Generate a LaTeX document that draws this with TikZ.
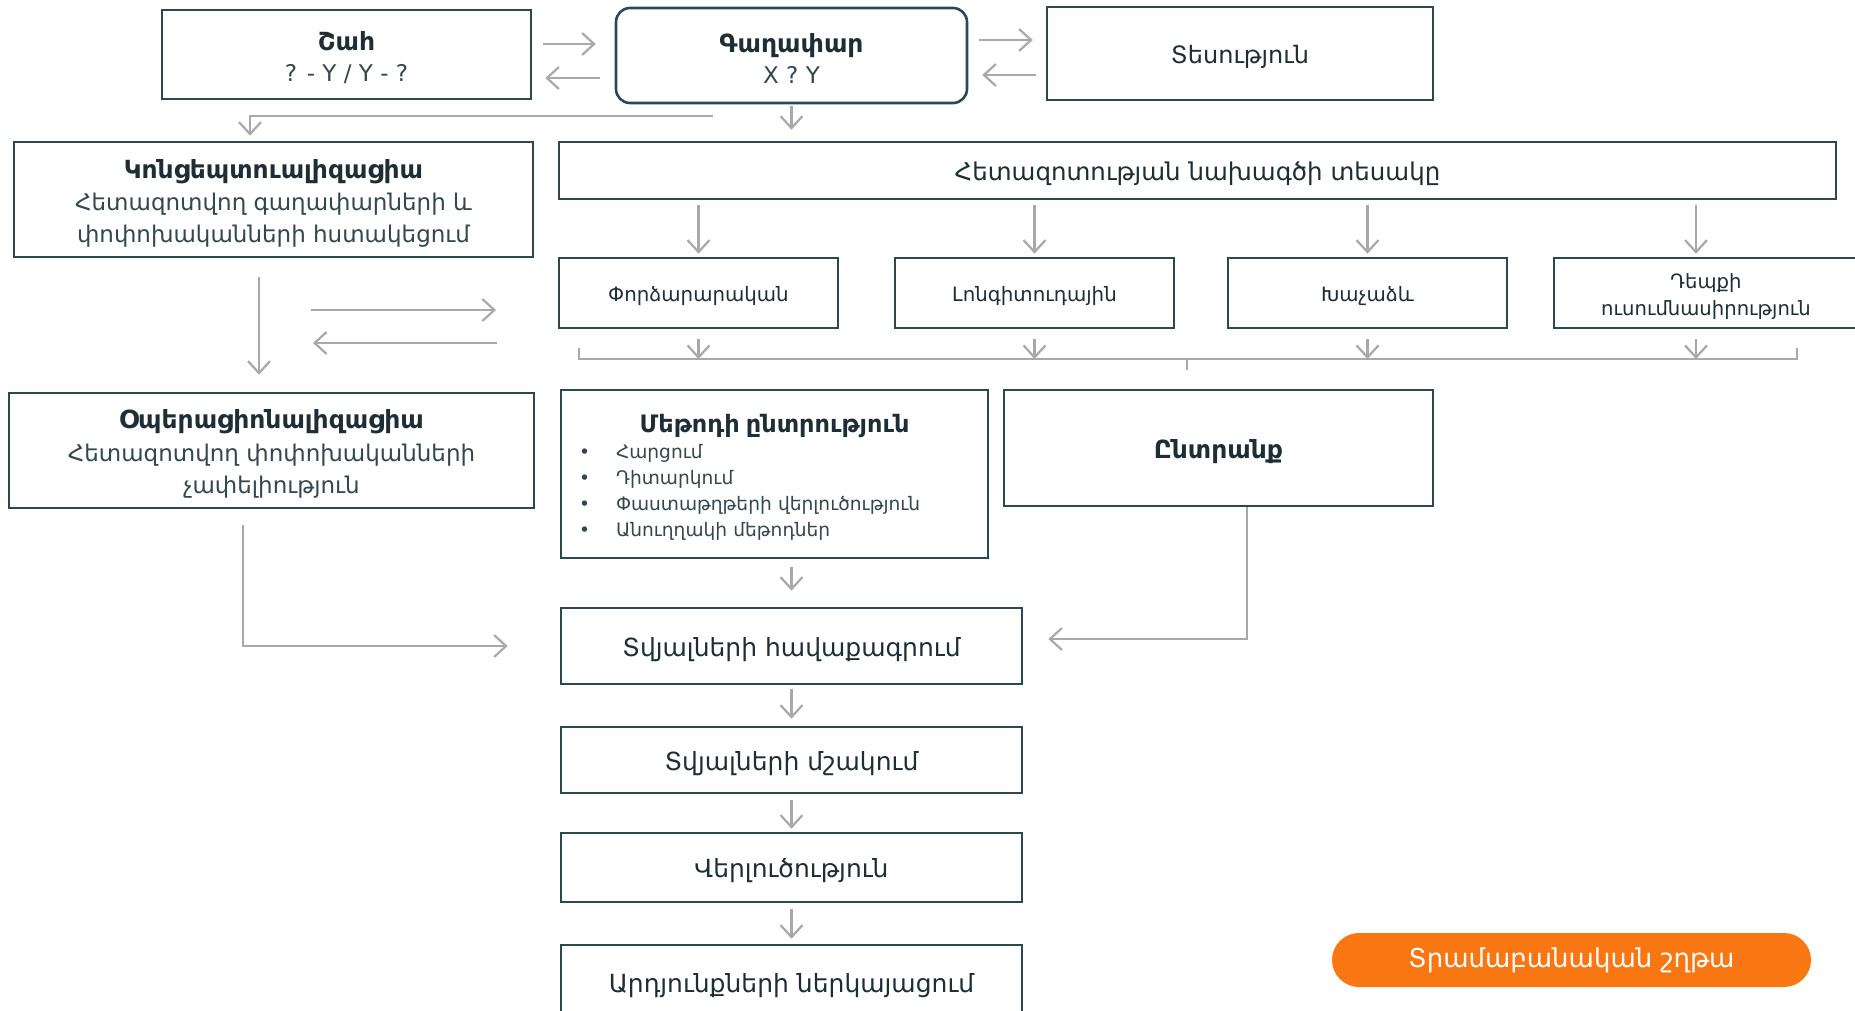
\documentclass[tikz,border=0pt]{standalone}
\usepackage{fontspec}
\setmainfont{DejaVu Sans}
\usetikzlibrary{arrows.meta,calc}
\definecolor{bord}{HTML}{2D4850}
\definecolor{txt}{HTML}{1F2E35}
\definecolor{lgt}{HTML}{34474E}
\definecolor{conn}{HTML}{A9A9A9}
\definecolor{orng}{HTML}{F97712}
\pgfdeclarelayer{bg}
\pgfsetlayers{bg,main}
\newcommand{\fsz}[2]{\fontsize{#1pt}{#2pt}\selectfont}
\newcommand{\lowr}[1]{\raisebox{-3.5pt}[\height][\depth]{#1}}
\begin{document}
\begin{tikzpicture}[x=1pt,y=-1pt,
  box/.style={draw=bord, line width=2.6pt, fill=white, text=txt, align=center, inner sep=0pt},
  arr/.style={draw=conn, line width=2.2pt, -{Straight Barb[length=12pt,width=22pt]}},
  lin/.style={draw=conn, line width=2.2pt}]
\useasboundingbox (0,0) rectangle (1855,1011);
\clip (0,0) rectangle (1855,1011);
\fill[white] (0,0) rectangle (1855,1011);

% top row
\node[box, minimum width=369pt, minimum height=89pt, font=\fsz{23}{31}] (shah) at (346.5,54.5)
  {\lowr{\fsz{25}{31}\bfseries Շահ}\\\lowr{\color{lgt}? - Y / Y - ?}};
\node[box, rounded corners=14pt, minimum width=351pt, minimum height=95pt, font=\fsz{23}{31}] (gagh) at (791.5,55.5)
  {\lowr{\fsz{25}{31}\bfseries Գաղափար}\\\lowr{\color{lgt}X ? Y}};
\node[box, minimum width=386pt, minimum height=93pt, font=\fsz{24}{28}] (tes) at (1240,53.5) {\lowr{Տեսություն}};

% second row
\node[box, minimum width=519pt, minimum height=115pt, font=\fsz{23}{32}] (konts) at (273.5,199.5)
  {\lowr{\fsz{25}{32}\bfseries Կոնցեպտուալիզացիա}\\\lowr{\color{lgt}Հետազոտվող գաղափարների և}\\\lowr{\color{lgt}փոփոխականների հստակեցում}};
\node[box, minimum width=1277pt, minimum height=57pt, font=\fsz{24.5}{28}] (design) at (1197.5,170.5)
  {\lowr{Հետազոտության նախագծի տեսակը}};

% design types
\node[box, minimum width=279pt, minimum height=70pt, font=\fsz{19.8}{27}] (porc) at (698.5,293) {\lowr{Փորձարարական}};
\node[box, minimum width=279pt, minimum height=70pt, font=\fsz{19.8}{27}] (long) at (1034.5,293) {\lowr{Լոնգիտուդային}};
\node[box, minimum width=279pt, minimum height=70pt, font=\fsz{19.8}{27}] (khach) at (1367.5,293) {\lowr{Խաչաձև}};
\node[box, minimum width=304pt, minimum height=70pt, font=\fsz{19.6}{27}] (depq) at (1706,293) {\lowr{Դեպքի}\\\lowr{ուսումնասիրություն}};

% third row
\node[box, minimum width=525pt, minimum height=115pt, font=\fsz{23}{32.5}] (operats) at (271.5,450.5)
  {\lowr{\fsz{25}{32.5}\bfseries Օպերացիոնալիզացիա}\\\lowr{\color{lgt}Հետազոտվող փոփոխականների}\\\lowr{\color{lgt}չափելիություն}};
\node[box, minimum width=427pt, minimum height=168pt, text width=427pt, align=left, font=\fsz{18.6}{26}] (method) at (774.5,474)
  {\lowr{\makebox[\linewidth][c]{\bfseries\fsz{24}{28}Մեթոդի ընտրություն}}\\[0pt]
   \lowr{\color{lgt}\hspace*{18pt}\makebox[37pt][l]{•}Հարցում}\\
   \lowr{\color{lgt}\hspace*{18pt}\makebox[37pt][l]{•}Դիտարկում}\\
   \lowr{\color{lgt}\hspace*{18pt}\makebox[37pt][l]{•}Փաստաթղթերի վերլուծություն}\\
   \lowr{\color{lgt}\hspace*{18pt}\makebox[37pt][l]{•}Անուղղակի մեթոդներ}};
\node[box, minimum width=429pt, minimum height=116pt, font=\bfseries\fsz{25}{28}] (ntrank) at (1218.5,448) {\lowr{Ընտրանք}};

% lower chain
\node[box, minimum width=461pt, minimum height=76pt, font=\fsz{25}{28}] (havak) at (791.5,646) {\lowr{Տվյալների հավաքագրում}};
\node[box, minimum width=461pt, minimum height=66pt, font=\fsz{25}{28}] (mshak) at (791.5,760) {\lowr{Տվյալների մշակում}};
\node[box, minimum width=461pt, minimum height=69pt, font=\fsz{25}{28}] (verl) at (791.5,867.5) {\lowr{Վերլուծություն}};
\node[box, minimum width=461pt, minimum height=75pt, font=\fsz{25}{28}] (ardy) at (791.5,982.5) {\lowr{Արդյունքների ներկայացում}};

\node[fill=orng, rounded corners=27pt, minimum width=479pt, minimum height=54pt, text=white, font=\fsz{26}{28}, inner sep=0pt] (pill) at (1571.5,960) {Տրամաբանական շղթա};

% free coordinates
\coordinate (gl) at (713,116);
\coordinate (fa1) at (311,310);
\coordinate (fa2) at (496,310);
\coordinate (fb1) at (497,343);
\coordinate (fb2) at (313,343);

% long lines behind boxes
\begin{pgfonlayer}{bg}
\draw[arr] (verl.east |- 0,864) -| (1477,57) -- (tes.east |- 0,57);
\draw[arr, shorten >=18pt] (ardy.west |- 0,978) -| (99,58) -- (shah.west |- 0,58);
\end{pgfonlayer}

% top row arrows
\draw[arr, shorten <=11pt, shorten >=19pt] (shah.east |- 0,44) -- (gagh.west |- 0,44);
\draw[arr, shorten <=15pt, shorten >=13pt] (gagh.west |- 0,78) -- (shah.east |- 0,78);
\draw[arr, shorten <=11pt, shorten >=13pt] (gagh.east |- 0,40) -- (tes.west |- 0,40);
\draw[arr, shorten <=10pt, shorten >=14pt] (tes.west |- 0,75) -- (gagh.east |- 0,75);
\draw[arr, shorten <=2pt, shorten >=11pt] (gagh.south) -- (gagh.south |- design.north);
\draw[arr, shorten >=5pt] (gl) -| (konts.north -| 250,0);

% design to types
\draw[arr, shorten <=5pt, shorten >=3pt] (design.south -| porc.north) -- (porc.north);
\draw[arr, shorten <=5pt, shorten >=3pt] (design.south -| long.north) -- (long.north);
\draw[arr, shorten <=5pt, shorten >=3pt] (design.south -| khach.north) -- (khach.north);
\draw[arr, shorten <=5pt, shorten >=3pt] (design.south -| 1696,0) -- (depq.north -| 1696,0);

% types to bracket
\draw[arr, shorten <=10pt] (porc.south) -- (porc.south |- 0,359);
\draw[arr, shorten <=10pt] (long.south) -- (long.south |- 0,359);
\draw[arr, shorten <=10pt] (khach.south) -- (khach.south |- 0,359);
\draw[arr, shorten <=10pt] (depq.south -| 1696,0) -- (1696,359);
\draw[conn, line width=1.8pt] (579,348) -- (579,359) -- (1797,359) -- (1797,348);
\draw[conn, line width=1.8pt] (1187,359) -- (1187,370);

% left column
\draw[arr, shorten <=19pt, shorten >=17pt] (konts.south -| 259,0) -- (operats.north -| 259,0);
\draw[arr] (fa1) -- (fa2);
\draw[arr] (fb1) -- (fb2);
\draw[arr, shorten <=16pt, shorten >=52pt] (operats.south -| 243,0) |- (havak.west);

% chain
\draw[arr, shorten >=25pt] (ntrank.south -| 1247,0) |- (havak.east |- 0,639);
\draw[arr, shorten <=8pt, shorten >=16pt] (method.south -| havak.north) -- (havak.north);
\draw[arr, shorten <=4pt, shorten >=7pt] (havak.south) -- (mshak.north);
\draw[arr, shorten <=6pt, shorten >=3pt] (mshak.south) -- (verl.north);
\draw[arr, shorten <=6pt, shorten >=5pt] (verl.south) -- (ardy.north);
\end{tikzpicture}
\end{document}
